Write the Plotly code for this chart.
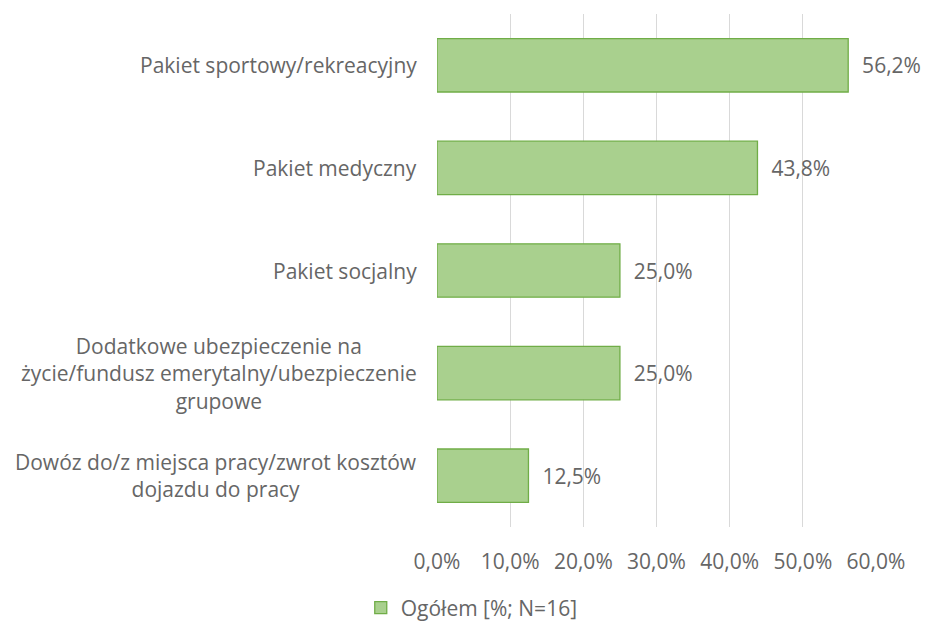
import plotly.graph_objects as go

categories = [
    "Pakiet sportowy/rekreacyjny",
    "Pakiet medyczny",
    "Pakiet socjalny",
    "Dodatkowe ubezpieczenie na<br>życie/fundusz emerytalny/ubezpieczenie<br>grupowe",
    "Dowóz do/z miejsca pracy/zwrot kosztów<br>dojazdu do pracy",
]
values = [56.2, 43.8, 25.0, 25.0, 12.5]
tick_vals = [0, 10, 20, 30, 40, 50, 60]
tick_text = ["0,0%", "10,0%", "20,0%", "30,0%", "40,0%", "50,0%", "60,0%"]
series_name = "Ogółem [%; N=16]"

FONT = "'Open Sans', sans-serif"
GREY = "#666666"
FS = 21

fig = go.Figure()
fig.add_trace(go.Bar(
    x=values,
    y=categories,
    orientation="h",
    name=series_name,
    marker=dict(color="#A9D08E", line=dict(color="#70AD47", width=1.3)),
    width=0.52,
    text=["\u00a0\u00a0" + f"{v:.1f}".replace(".", ",") + "%" for v in values],
    textposition="outside",
    textfont=dict(family=FONT, size=FS, color=GREY),
    cliponaxis=False,
    showlegend=True,
))

for cat in categories:
    fig.add_annotation(
        x=-0.041, xref="paper", xanchor="right",
        y=cat, yref="y",
        text=cat, showarrow=False, align="center",
        font=dict(family=FONT, size=FS, color=GREY),
    )

fig.update_layout(
    width=925, height=623,
    margin=dict(l=437, r=49, t=14, b=96),
    plot_bgcolor="white", paper_bgcolor="white",
    font=dict(family=FONT, size=FS, color=GREY),
    xaxis=dict(
        range=[0, 60], tickvals=tick_vals, ticktext=tick_text,
        showgrid=True, gridcolor="#D9D9D9", gridwidth=1,
        zeroline=False, showline=False,
        ticklabelstandoff=20,
        tickfont=dict(family=FONT, size=FS, color=GREY),
    ),
    yaxis=dict(
        autorange="reversed", showticklabels=False, showgrid=False,
        zeroline=False, showline=False,
    ),
    legend=dict(
        orientation="h", x=0.51, xref="container", xanchor="center",
        y=0.024, yref="container", yanchor="middle",
        itemwidth=30,
        font=dict(family=FONT, size=FS, color=GREY),
    ),
    bargap=0.48,
)

fig.write_html(
    "out.html",
    config={"displayModeBar": False},
    post_script="document.body.style.margin='0';document.body.style.overflow='hidden';",
)
